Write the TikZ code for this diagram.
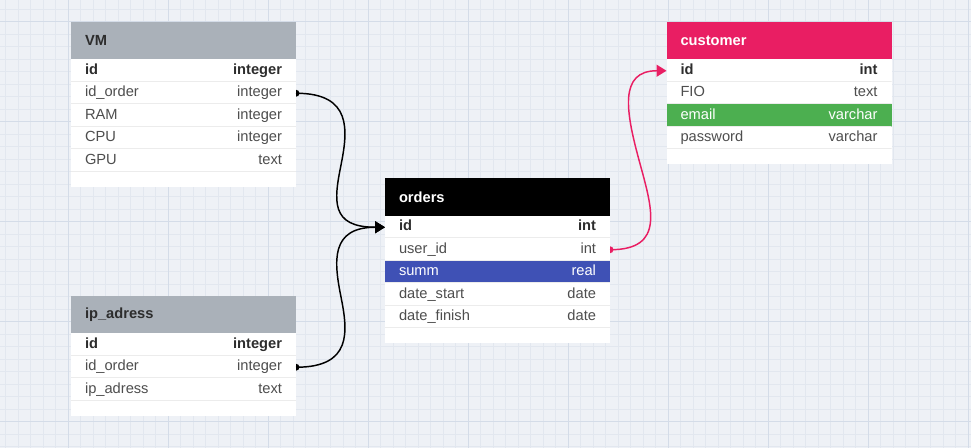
\documentclass[tikz,border=0pt]{standalone}
\usepackage{fontspec}
\setmainfont{Liberation Sans}
\usetikzlibrary{arrows.meta,positioning}

\definecolor{canvas}{RGB}{238,241,246}
\definecolor{gridminor}{RGB}{226,231,239}
\definecolor{gridmajor}{RGB}{212,220,232}
\definecolor{hdrgray}{RGB}{170,177,185}
\definecolor{pinkhdr}{RGB}{233,30,99}
\definecolor{indigorow}{RGB}{63,81,181}
\definecolor{greenrow}{RGB}{76,175,80}
\definecolor{rowtext}{RGB}{78,78,78}
\definecolor{keytext}{RGB}{45,45,45}
\definecolor{rowline}{RGB}{236,236,236}

\begin{document}
\begin{tikzpicture}[x=0.75pt,y=-0.75pt,
  tbl/.style={anchor=north west,minimum height=28.125pt,text width=147.75pt,
    inner xsep=10.5pt,inner ysep=0pt,outer sep=0pt,
    font=\fontsize{11pt}{13pt}\selectfont\bfseries},
  row/.style={minimum height=16.875pt,text width=147.75pt,inner xsep=10.5pt,
    inner ysep=0pt,outer sep=0pt,fill=white,text=rowtext,
    text height=8pt,text depth=2.5pt,font=\fontsize{11pt}{13pt}\selectfont,
    path picture={\draw[rowline,line width=2.2pt]
      (path picture bounding box.south west) -- (path picture bounding box.south east);}},
  key/.style={row,text=keytext,font=\fontsize{11pt}{13pt}\selectfont\bfseries},
  foot/.style={minimum height=11.25pt,minimum width=168.75pt,inner sep=0pt,
    outer sep=0pt,fill=white},
  link/.style={line width=1.1pt,-{Triangle[length=7.5pt,width=9pt]}}]

\useasboundingbox (0,0) rectangle (971,448);
\fill[canvas] (0,0) rectangle (971,448);
\foreach \gx in {5.5,18,...,971} \draw[gridminor,line width=0.75pt] (\gx,0) -- (\gx,448);
\foreach \gy in {9.5,22,...,448} \draw[gridminor,line width=0.75pt] (0,\gy) -- (971,\gy);
\foreach \gx in {68,168,...,968} \draw[gridmajor,line width=0.75pt] (\gx,0) -- (\gx,448);
\foreach \gy in {22,122,...,422} \draw[gridmajor,line width=0.75pt] (0,\gy) -- (971,\gy);

% VM
\node[tbl,fill=hdrgray,text=keytext] (VM) at (71,22) {VM};
\node[key,below=0pt of VM] (VM-id) {id\hfill integer};
\node[row,below=0pt of VM-id] (VM-ord) {id\_order\hfill integer};
\node[row,below=0pt of VM-ord] (VM-ram) {RAM\hfill integer};
\node[row,below=0pt of VM-ram] (VM-cpu) {CPU\hfill integer};
\node[row,below=0pt of VM-cpu] (VM-gpu) {GPU\hfill text};
\node[foot,below=0pt of VM-gpu] (VM-end) {};

% ip_adress
\node[tbl,fill=hdrgray,text=keytext] (ip) at (71,296) {ip\_adress};
\node[key,below=0pt of ip] (ip-id) {id\hfill integer};
\node[row,below=0pt of ip-id] (ip-ord) {id\_order\hfill integer};
\node[row,below=0pt of ip-ord] (ip-adr) {ip\_adress\hfill text};
\node[foot,below=0pt of ip-adr] (ip-end) {};

% orders
\node[tbl,fill=black,text=white] (ord) at (385,178.5) {orders};
\node[key,below=0pt of ord] (ord-id) {id\hfill int};
\node[row,below=0pt of ord-id] (ord-user) {user\_id\hfill int};
\node[row,below=0pt of ord-user,fill=indigorow,text=white] (ord-summ) {summ\hfill real};
\node[row,below=0pt of ord-summ] (ord-start) {date\_start\hfill date};
\node[row,below=0pt of ord-start] (ord-fin) {date\_finish\hfill date};
\node[foot,below=0pt of ord-fin] (ord-end) {};

% customer
\node[tbl,fill=pinkhdr,text=white] (cus) at (666.5,22) {customer};
\node[key,below=0pt of cus] (cus-id) {id\hfill int};
\node[row,below=0pt of cus-id] (cus-fio) {FIO\hfill text};
\node[row,below=0pt of cus-fio,fill=greenrow,text=white] (cus-mail) {email\hfill varchar};
\node[row,below=0pt of cus-mail] (cus-pass) {password\hfill varchar};
\node[foot,below=0pt of cus-pass] (cus-end) {};

% links
\coordinate (m1) at (341,165);
\coordinate (m2) at (341,297);
\coordinate (m3) at (639,160);

\draw[link] (VM-ord.east) .. controls +(56,0) and +(7,-35) .. (m1)
  .. controls +(-7,35) and +(-55,0) .. (ord-id.west);
\draw[link] (ip-ord.east) .. controls +(56,0) and +(7,35) .. (m2)
  .. controls +(-7,-35) and +(-55,0) .. (ord-id.west);
\draw[link,pinkhdr] (ord-user.east) .. controls +(56,0) and +(13,48) .. (m3)
  .. controls +(-13,-48) and +(-48,0) .. (cus-id.west);

\fill (VM-ord.east) ++(0pt,-2.6pt) arc[start angle=-90,end angle=90,radius=2.6pt] -- cycle;
\fill (ip-ord.east) ++(0pt,-2.6pt) arc[start angle=-90,end angle=90,radius=2.6pt] -- cycle;
\fill[pinkhdr] (ord-user.east) ++(0pt,-2.6pt) arc[start angle=-90,end angle=90,radius=2.6pt] -- cycle;
\end{tikzpicture}
\end{document}
